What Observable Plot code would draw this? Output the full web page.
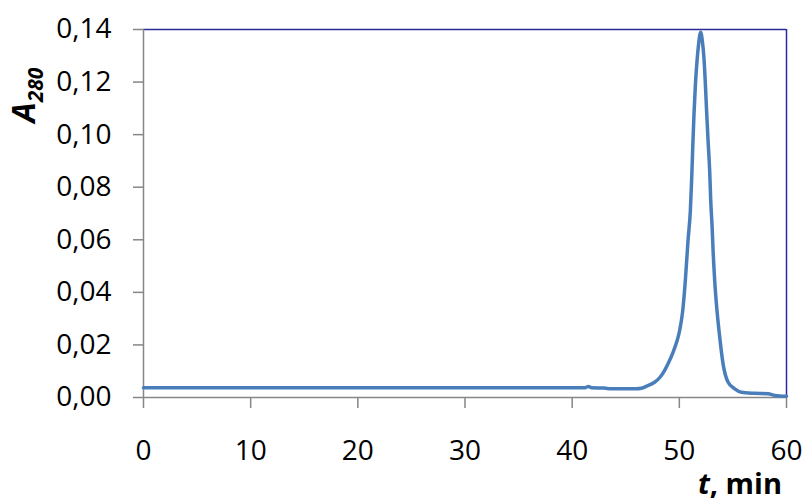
<!DOCTYPE html>
<html>
<head>
<meta charset="utf-8">
<script src="https://cdn.jsdelivr.net/npm/d3@7"></script>
<script src="https://cdn.jsdelivr.net/npm/@observablehq/plot@0.6"></script>
<style>
  body { margin: 0; background: #fff; }
  svg { display: block; }
</style>
</head>
<body>
<div id="chart"></div>
<script>
// Elution time (min) and absorbance at 280 nm
const time = [
  0, 5, 10, 15, 20, 25, 30, 35, 40, 41.2, 41.5, 41.8, 43, 43.6, 45, 46,
  46.45, 47, 47.69, 48.2, 48.63, 49.0, 49.41, 49.75, 50.03, 50.3, 50.56, 50.81, 51.03,
  51.15, 51.25, 51.37, 51.5, 51.65, 51.8, 51.99, 52.15, 52.3, 52.42, 52.55,
  52.68, 52.83, 52.93, 53.06, 53.15, 53.3, 53.46, 53.77, 54.08, 54.55,
  55.17, 55.79, 57, 58.29, 58.91, 60
];
const absorbance = [
  0.0037, 0.0037, 0.0037, 0.0037, 0.0037, 0.0037, 0.0037, 0.0037, 0.0037, 0.0037, 0.0042, 0.0037, 0.0036, 0.0033, 0.0033, 0.0033,
  0.0035, 0.0044, 0.0058, 0.0077, 0.0103, 0.0133, 0.0172, 0.0211, 0.0255, 0.0325, 0.0445, 0.0597, 0.0712,
  0.0830, 0.0950, 0.1080, 0.1190, 0.1280, 0.1345, 0.1390, 0.1355, 0.1290, 0.1200, 0.1085,
  0.0978, 0.0864, 0.0749, 0.0648, 0.0559, 0.0445, 0.0356, 0.0229, 0.0128, 0.0058,
  0.0033, 0.0020, 0.0016, 0.0014, 0.0008, 0.0005
];
const xTicks = [0, 10, 20, 30, 40, 50, 60];
const yTicks = [0, 0.02, 0.04, 0.06, 0.08, 0.10, 0.12, 0.14];

const data = time.map((t, i) => ({t, a: absorbance[i]}));
const commaFormat = d => d.toFixed(2).replace(".", ",");

const axisGray = "#868686";
const frameNavy = "#2a2a9c";
const lineBlue = "#4a7ebb";

const chart = Plot.plot({
  width: 804,
  height: 503,
  marginLeft: 143,
  marginRight: 18,
  marginTop: 29,
  marginBottom: 106,
  style: {fontFamily: "'Open Sans', sans-serif", fontSize: "28px", color: "#000", background: "#fff"},
  x: {domain: [0, 60]},
  y: {domain: [0, 0.14]},
  marks: [
    Plot.ruleY([0.14], {stroke: frameNavy, strokeWidth: 1.5}),
    Plot.ruleX([60], {stroke: frameNavy, strokeWidth: 1.5}),
    Plot.ruleX([0], {stroke: axisGray, strokeWidth: 1.5}),
    Plot.ruleY([0], {stroke: axisGray, strokeWidth: 1.5}),
    Plot.axisX(xTicks, {tickSize: 11, tickPadding: 32, stroke: axisGray, strokeWidth: 1.5, label: null}),
    Plot.axisY(yTicks, {tickSize: 10, tickPadding: 22, stroke: axisGray, strokeWidth: 1.5, tickFormat: commaFormat, label: null}),
    Plot.line(data, {x: "t", y: "a", stroke: lineBlue, strokeWidth: 3.5, curve: "monotone-x"})
  ]
});

document.getElementById("chart").appendChild(chart);

// Axis titles with subscript / italic parts
const svg = d3.select(chart);
const yTitle = svg.append("text")
  .attr("transform", "translate(35,95) rotate(-90)")
  .attr("font-family", "'Open Sans', sans-serif")
  .attr("font-weight", "bold")
  .attr("font-style", "italic")
  .attr("fill", "#000");
yTitle.append("tspan").attr("font-size", 32).text("A");
yTitle.append("tspan").attr("font-size", 21).attr("dy", 8).text("280");

const xTitle = svg.append("text")
  .attr("x", 782)
  .attr("y", 494)
  .attr("text-anchor", "end")
  .attr("font-family", "'Open Sans', sans-serif")
  .attr("font-weight", "bold")
  .attr("font-size", 29)
  .attr("fill", "#000");
xTitle.append("tspan").attr("font-style", "italic").text("t");
xTitle.append("tspan").text(", min");
</script>
</body>
</html>
